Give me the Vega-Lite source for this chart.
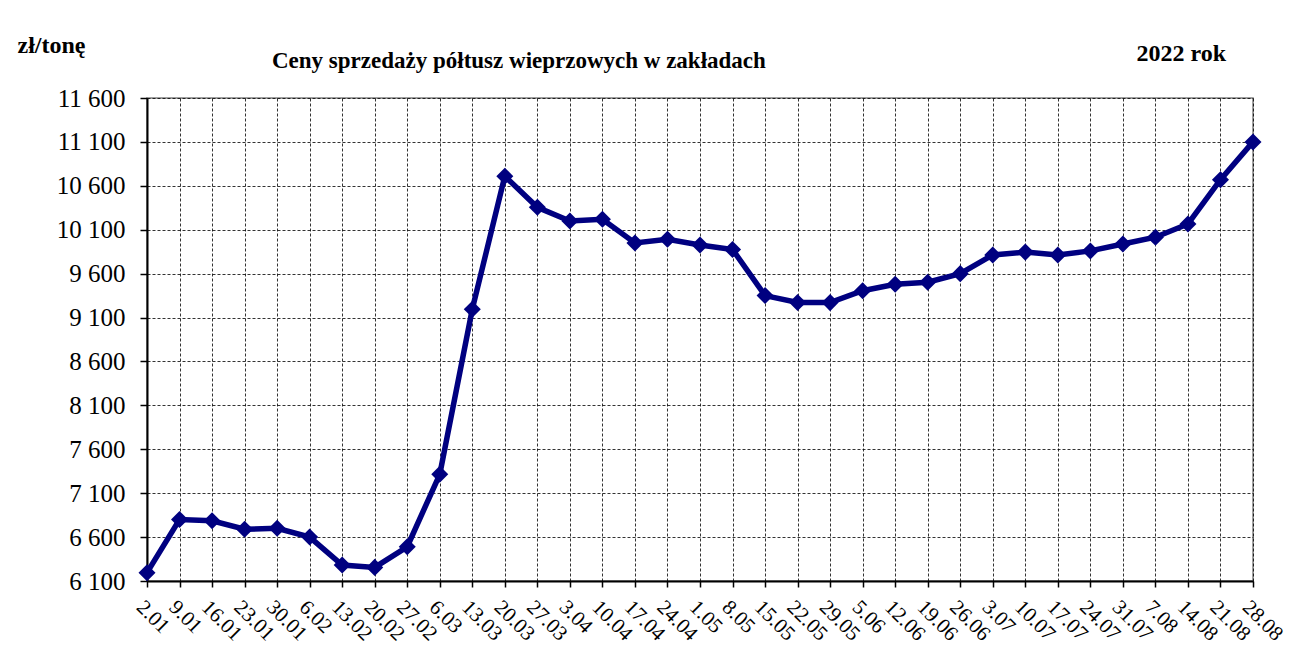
{
  "$schema": "https://vega.github.io/schema/vega-lite/v6.json",
  "width": 1106,
  "height": 483,
  "autosize": {"type": "none"},
  "padding": {"left": 147, "top": 98, "right": 63, "bottom": 83},
  "background": "white",
  "config": {
    "font": "Liberation Serif",
    "view": {"stroke": "#808080", "strokeWidth": 1.5}
  },
  "title": {
    "text": "Ceny sprzedaży półtusz wieprzowych w zakładach",
    "anchor": "start",
    "frame": "group",
    "dx": 125,
    "offset": 0,
    "dy": 58,
    "baseline": "alphabetic",
    "font": "Liberation Serif",
    "fontSize": 23,
    "fontWeight": "bold",
    "color": "black"
  },
  "data": {
    "values": [
      {"d": "2.01", "v": 6195},
      {"d": "9.01", "v": 6800},
      {"d": "16.01", "v": 6785},
      {"d": "23.01", "v": 6690},
      {"d": "30.01", "v": 6700},
      {"d": "6.02", "v": 6600},
      {"d": "13.02", "v": 6282},
      {"d": "20.02", "v": 6255},
      {"d": "27.02", "v": 6490},
      {"d": "6.03", "v": 7315},
      {"d": "13.03", "v": 9195},
      {"d": "20.03", "v": 10710},
      {"d": "27.03", "v": 10355},
      {"d": "3.04", "v": 10200},
      {"d": "10.04", "v": 10220},
      {"d": "17.04", "v": 9950},
      {"d": "24.04", "v": 9992},
      {"d": "1.05", "v": 9927},
      {"d": "8.05", "v": 9875},
      {"d": "15.05", "v": 9350},
      {"d": "22.05", "v": 9272},
      {"d": "29.05", "v": 9270},
      {"d": "5.06", "v": 9405},
      {"d": "12.06", "v": 9478},
      {"d": "19.06", "v": 9503},
      {"d": "26.06", "v": 9600},
      {"d": "3.07", "v": 9813},
      {"d": "10.07", "v": 9845},
      {"d": "17.07", "v": 9813},
      {"d": "24.07", "v": 9859},
      {"d": "31.07", "v": 9938},
      {"d": "7.08", "v": 10015},
      {"d": "14.08", "v": 10166},
      {"d": "21.08", "v": 10670},
      {"d": "28.08", "v": 11100}
    ]
  },
  "encoding": {
    "x": {
      "field": "d",
      "type": "ordinal",
      "sort": null,
      "scale": {"type": "point", "padding": 0},
      "axis": {
        "title": "2022 rok",
        "titleX": 989,
        "titleY": -521,
        "titleAlign": "left",
        "titleBaseline": "alphabetic",
        "titleFont": "Liberation Serif",
        "titleFontSize": 24,
        "titleFontWeight": "bold",
        "titleColor": "black",
        "labelAngle": 45,
        "labelAlign": "left",
        "labelBaseline": "top",
        "labelFont": "Liberation Serif",
        "labelFontSize": 21,
        "labelColor": "black",
        "labelPadding": 9,
        "tickColor": "black",
        "tickSize": 6,
        "tickWidth": 1.5,
        "domainColor": "black",
        "domainWidth": 2,
        "grid": true,
        "gridColor": "black",
        "gridDash": [3, 2],
        "gridWidth": 1,
        "gridOpacity": 0.8
      }
    },
    "y": {
      "field": "v",
      "type": "quantitative",
      "scale": {"domain": [6100, 11600], "nice": false, "zero": false},
      "axis": {
        "values": [6100, 6600, 7100, 7600, 8100, 8600, 9100, 9600, 10100, 10600, 11100, 11600],
        "labelExpr": "replace(format(datum.value, ','), ',', ' ')",
        "title": "zł/tonę",
        "titleAngle": 0,
        "titleX": -130,
        "titleY": -46,
        "titleAlign": "left",
        "titleBaseline": "alphabetic",
        "titleFont": "Liberation Serif",
        "titleFontSize": 24,
        "titleFontWeight": "bold",
        "titleColor": "black",
        "labelFont": "Liberation Serif",
        "labelFontSize": 25,
        "labelColor": "black",
        "labelPadding": 15,
        "tickColor": "black",
        "tickSize": 7,
        "tickWidth": 1.5,
        "domainColor": "black",
        "domainWidth": 2,
        "grid": true,
        "gridColor": "black",
        "gridDash": [3, 2],
        "gridWidth": 1,
        "gridOpacity": 0.8
      }
    }
  },
  "layer": [
    {"mark": {"type": "line", "color": "#000080", "strokeWidth": 5.5}},
    {"mark": {"type": "point", "shape": "diamond", "filled": true, "color": "#000080", "opacity": 1, "size": 290}}
  ]
}
